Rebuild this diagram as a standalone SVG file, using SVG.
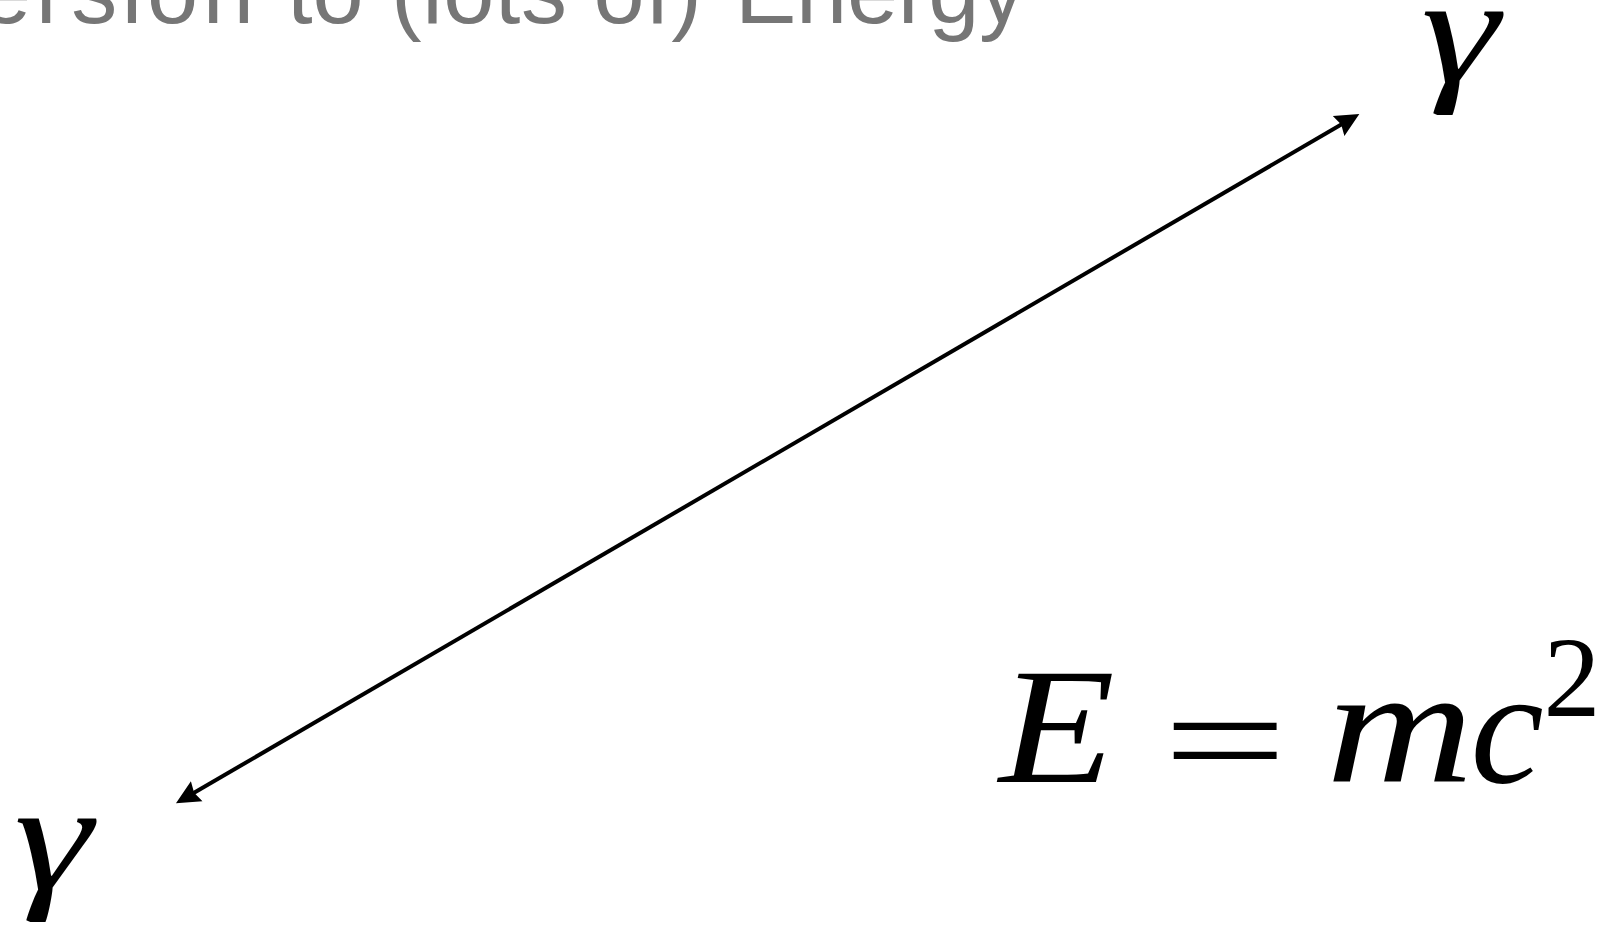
<svg xmlns="http://www.w3.org/2000/svg" width="1603" height="925" viewBox="0 0 1603 925">
  <style>
    .title { font-family: "Liberation Sans", Arial, sans-serif; font-size: 92px; fill: #767676; }
    .math { font-family: "Liberation Serif", "Times New Roman", serif; font-style: italic; fill: #000; }
    .mathup { font-family: "Liberation Serif", "Times New Roman", serif; fill: #000; }
    .conn { stroke: #000; stroke-width: 4; fill: none; }
  </style>
  <defs>
    <marker id="arrow" markerUnits="userSpaceOnUse" markerWidth="26" markerHeight="26" refX="14" refY="11.5" orient="auto-start-reverse" viewBox="0 0 26 23">
      <path d="M0,0 L24,11.5 L0,23 L3,11.5 z" fill="#000"/>
    </marker>
  </defs>
  <rect width="1603" height="925" fill="#fff"/>
  <g id="title">
    <text class="title" y="23"><tspan x="-20" textLength="274" lengthAdjust="spacing">ersion</tspan><tspan x="287">to</tspan><tspan x="391" textLength="311" lengthAdjust="spacing">(lots of)</tspan><tspan x="735" textLength="290" lengthAdjust="spacing">Energy</tspan></text>
  </g>
  <g id="gamma-top">
    <text class="math" transform="translate(1460,82) scale(1.28,1)" font-size="155" text-anchor="middle">γ</text>
  </g>
  <g id="gamma-bottom">
    <text class="math" transform="translate(53,889) scale(1.28,1)" font-size="155" text-anchor="middle">γ</text>
  </g>
  <g id="equation">
    <text class="math" transform="translate(1057,782) scale(1.15,1)" font-size="165" text-anchor="middle">E</text>
    <text class="mathup" transform="translate(1225,789.4) scale(1.34,0.88)" font-size="165" text-anchor="middle">=</text>
    <text class="math" transform="translate(1400,782) scale(1.24,1)" font-size="165" text-anchor="middle">m</text>
    <text class="math" x="1507" y="782" font-size="165" text-anchor="middle">c</text>
    <text class="mathup" x="1572" y="716" font-size="114" text-anchor="middle">2</text>
  </g>
  <g id="connectors">
    <path class="conn" d="M184.6,798.3 L1350.7,119" marker-start="url(#arrow)" marker-end="url(#arrow)"/>
  </g>
</svg>
